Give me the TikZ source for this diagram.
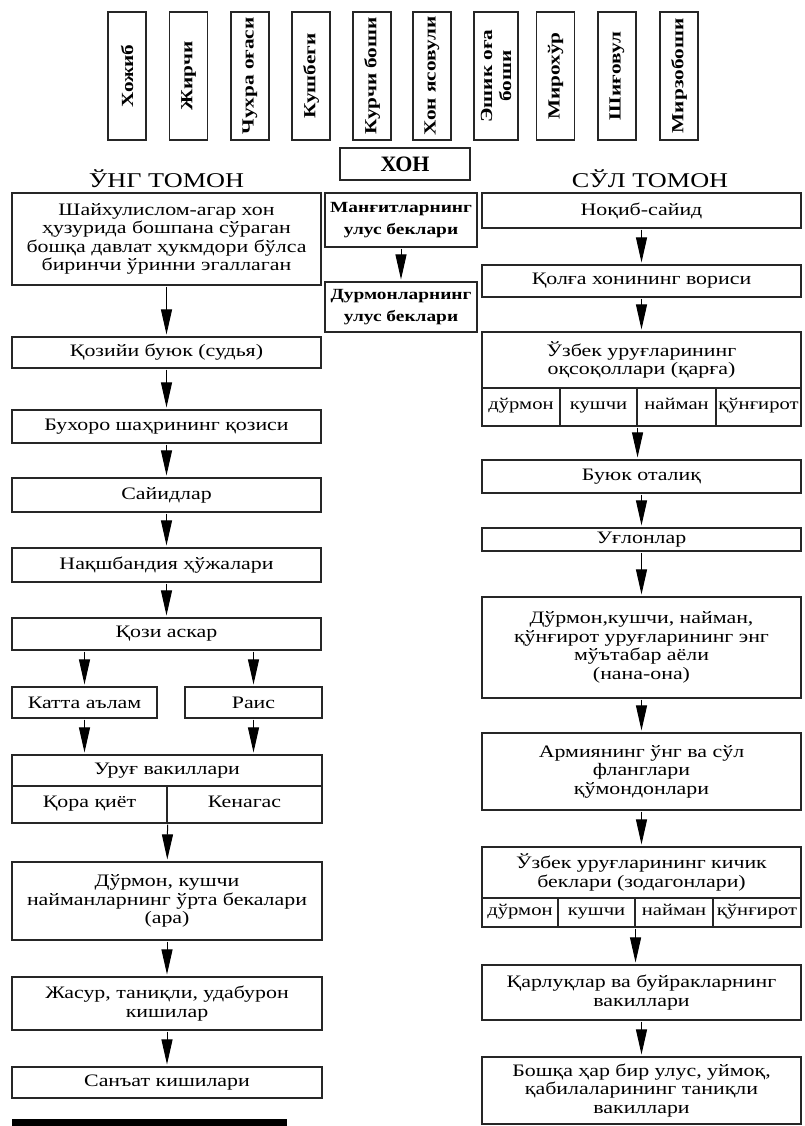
\documentclass[tikz,border=0pt]{standalone}
\usepackage{fontspec}
\setmainfont[FakeStretch=1.25]{Liberation Serif}
\newfontfamily\xonfont{Liberation Serif}
\usetikzlibrary{arrows.meta}

\newcommand{\boxfont}{\fontsize{17.5}{18.5}\selectfont}
\newcommand{\cellfont}{\fontsize{16.5}{17}\selectfont}
\newcommand{\midfont}{\fontsize{15.5}{22}\selectfont\bfseries}
\newcommand{\vfont}{\fontsize{17}{19}\selectfont\bfseries}
\newcommand{\headfont}{\fontsize{21}{22}\selectfont}

\begin{document}
\begin{tikzpicture}[x=1pt,y=-1pt]
        \tikzstyle{box}=[draw=black!85,line width=1.1pt,rectangle,inner sep=1pt,align=center,font=\boxfont]
        \tikzstyle{cell}=[box,minimum height=38,font=\cellfont,text height=1.6ex,text depth=.45ex]
        \tikzstyle{vbox}=[box,rotate=90,minimum width=128,minimum height=38,font=\vfont]
        \tikzstyle{flow}=[draw,line width=1pt,-{Triangle[width=11pt,length=25pt]},shorten <=1pt,shorten >=2pt]
        \useasboundingbox (0,0) rectangle (804,1126);

        % top row of officials
        \node [vbox] (hojib) at (127,76) {Хожиб};
        \node [vbox] (jirchi) at (188.5,76) {Жирчи};
        \node [vbox] (chuhra) at (250,76) {Чухра оғаси};
        \node [vbox] (qushbegi) at (311,76) {Кушбеги};
        \node [vbox] (qurchi) at (372,76) {Курчи боши};
        \node [vbox] (yasovul) at (432,76) {Хон ясовули};
        \node [vbox,minimum height=44] (eshik) at (496,76) {Эшик оға\\ боши};
        \node [vbox] (mirohur) at (555.5,76) {Мирохўр};
        \node [vbox] (shigovul) at (617,76) {Шиғовул};
        \node [vbox] (mirzo) at (679,76) {Мирзобоши};

        % khan
        \node [box,minimum width=130,minimum height=32,font=\xonfont\fontsize{22}{24}\selectfont\bfseries] (xon) at (405,164) {ХОН};
        \node [box,minimum width=152,minimum height=54,font=\midfont] (mangit) at (401,220) {Манғитларнинг\\ улус беклари};
        \node [box,minimum width=152,minimum height=50,font=\midfont] (durmonlar) at (401,307) {Дурмонларнинг\\ улус беклари};
        \path (mangit) edge[flow] (durmonlar);

        % right side
        \node [font=\headfont] (ung) at (166.5,179) {ЎНГ ТОМОН};
        \node [box,minimum width=309,minimum height=92] (shaikh) at (166.5,239) {Шайхулислом-агар хон\\ ҳузурида бошпана сўраган\\ бошқа давлат ҳукмдори бўлса\\ биринчи ўринни эгаллаган};
        \node [box,minimum width=309,minimum height=31] (qozi) at (166.5,352.5) {Қозийи буюк (судья)};
        \node [box,minimum width=309,minimum height=33] (buxoro) at (166.5,426.5) {Бухоро шаҳрининг қозиси};
        \node [box,minimum width=309,minimum height=34] (sayid) at (166.5,495) {Сайидлар};
        \node [box,minimum width=309,minimum height=34] (naqsh) at (166.5,565) {Нақшбандия ҳўжалари};
        \node [box,minimum width=309,minimum height=32] (askar) at (166.5,634) {Қози аскар};
        \node [box,minimum width=145,minimum height=31] (katta) at (84.5,702.5) {Катта аълам};
        \node [box,minimum width=137,minimum height=31] (rais) at (253.5,702.5) {Раис};
        \node [box,minimum width=310,minimum height=31] (urug) at (167,770.5) {Уруғ вакиллари};
        \node [cell,minimum width=155,minimum height=37,font=\boxfont] (qora) at (89.5,804.5) {Қора қиёт};
        \node [cell,minimum width=155,minimum height=37,font=\boxfont] (kenagas) at (244.5,804.5) {Кенагас};
        \node [box,minimum width=310,minimum height=78] (orta) at (167,901) {Дўрмон,  кушчи\\ найманларнинг ўрта бекалари\\ (ара)};
        \node [box,minimum width=310,minimum height=53] (jasur) at (167,1003.5) {Жасур,  таниқли,  удабурон\\ кишилар};
        \node [box,minimum width=310,minimum height=31] (sanat) at (167,1082.5) {Санъат кишилари};

        \path (shaikh) edge[flow] (qozi);
        \path (qozi) edge[flow] (buxoro);
        \path (buxoro) edge[flow] (sayid);
        \path (sayid) edge[flow] (naqsh);
        \path (naqsh) edge[flow] (askar);
        \path (askar.south -| katta) edge[flow] (katta);
        \path (askar.south -| rais) edge[flow] (rais);
        \path (katta) edge[flow] (katta |- urug.north);
        \path (rais) edge[flow] (rais |- urug.north);
        \path (qora.south east) edge[flow] (orta);
        \path (orta) edge[flow] (jasur);
        \path (jasur) edge[flow] (sanat);

        % left side
        \node [font=\headfont] (sul) at (650,179) {СЎЛ ТОМОН};
        \node [box,minimum width=319,minimum height=35] (noqib) at (641.5,210.5) {Ноқиб-сайид};
        \node [box,minimum width=319,minimum height=32] (qolga) at (641.5,281) {Қолға хонининг вориси};
        \node [box,minimum width=319,minimum height=56] (oqsoqol) at (641.5,360) {Ўзбек уруғларининг\\ оқсоқоллари (қарға)};
        \node [cell,minimum width=78] (a1) at (521,407) {дўрмон};
        \node [cell,minimum width=77] (a2) at (598.5,407) {кушчи};
        \node [cell,minimum width=79] (a3) at (676.5,407) {найман};
        \node [cell,minimum width=85] (a4) at (758.5,407) {қўнғирот};
        \node [box,minimum width=319,minimum height=33] (otaliq) at (641.5,476.5) {Буюк оталиқ};
        \node [box,minimum width=319,minimum height=23] (uglon) at (641.5,539.5) {Уғлонлар};
        \node [box,minimum width=319,minimum height=101] (ona) at (641.5,647.5) {Дўрмон,кушчи,  найман,\\ қўнғирот уруғларининг энг\\ мўътабар аёли\\ (нана-она)};
        \node [box,minimum width=319,minimum height=77] (armiya) at (641.5,771.5) {Армиянинг ўнг ва сўл\\ фланглари\\ қўмондонлари};
        \node [box,minimum width=319,minimum height=51] (kichik) at (641.5,872.5) {Ўзбек уруғларининг кичик\\ беклари (зодагонлари)};
        \node [cell,minimum width=76,minimum height=29] (b1) at (520,912.5) {дўрмон};
        \node [cell,minimum width=77,minimum height=29] (b2) at (596.5,912.5) {кушчи};
        \node [cell,minimum width=78,minimum height=29] (b3) at (674,912.5) {найман};
        \node [cell,minimum width=88,minimum height=29] (b4) at (757,912.5) {қўнғирот};
        \node [box,minimum width=319,minimum height=55] (qarluq) at (641.5,992.5) {Қарлуқлар ва буйракларнинг\\ вакиллари};
        \node [box,minimum width=319,minimum height=67] (boshqa) at (641.5,1090.5) {Бошқа ҳар бир улус, уймоқ,\\ қабилаларининг таниқли\\ вакиллари};

        \path (noqib) edge[flow] (qolga);
        \path (qolga) edge[flow] (oqsoqol);
        \path (a2.south east) edge[flow] (a2.south east |- otaliq.north);
        \path (otaliq) edge[flow] (uglon);
        \path (uglon) edge[flow] (ona);
        \path (ona) edge[flow] (armiya);
        \path (armiya) edge[flow] (kichik);
        \path (b2.south east) edge[flow] (b2.south east |- qarluq.north);
        \path (qarluq) edge[flow] (boshqa);

        \fill (12,1119) rectangle (287,1126);
\end{tikzpicture}
\end{document}
